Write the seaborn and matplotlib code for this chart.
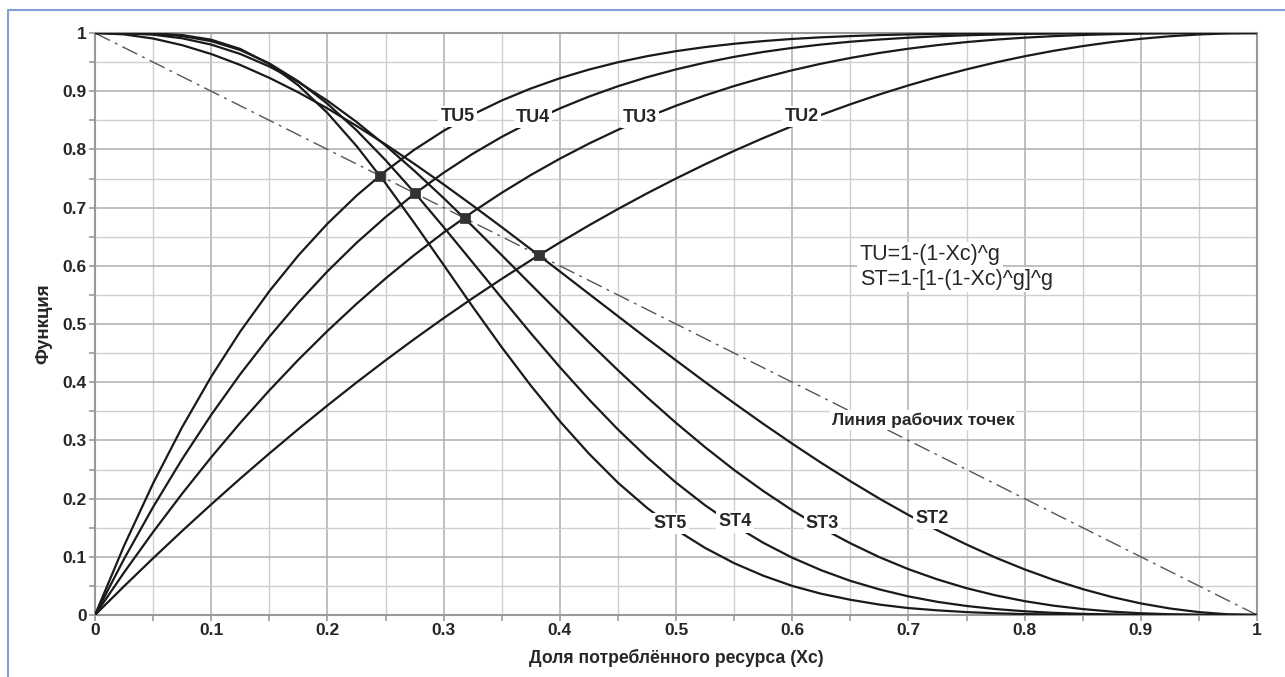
import pandas as pd
import numpy as np
import matplotlib
matplotlib.use("Agg")
import matplotlib.pyplot as plt
from matplotlib.lines import Line2D
from matplotlib.ticker import MultipleLocator
import seaborn as sns

# === данные (шаг 0.025) ===
xc = [0.000, 0.025, 0.050, 0.075, 0.100, 0.125, 0.150, 0.175, 0.200, 0.225,
      0.250, 0.275, 0.300, 0.325, 0.350, 0.375, 0.400, 0.425, 0.450, 0.475,
      0.500, 0.525, 0.550, 0.575, 0.600, 0.625, 0.650, 0.675, 0.700, 0.725,
      0.750, 0.775, 0.800, 0.825, 0.850, 0.875, 0.900, 0.925, 0.950, 0.975, 1.000]

tu2 = [0, .0494, .0975, .1444, .19, .2344, .2775, .3194, .36, .3994,
       .4375, .4744, .51, .5444, .5775, .6094, .64, .6694, .6975, .7244,
       .75, .7744, .7975, .8194, .84, .8594, .8775, .8944, .91, .9244,
       .9375, .9494, .96, .9694, .9775, .9844, .99, .9944, .9975, .9994, 1]
tu3 = [0, .0731, .1426, .2085, .271, .3301, .3859, .4385, .488, .5345,
       .5781, .6189, .657, .6925, .7254, .7559, .784, .8099, .8336, .8553,
       .875, .8928, .9089, .9232, .936, .9473, .9571, .9657, .973, .9792,
       .9844, .9886, .992, .9946, .9966, .998, .999, .9996, .9999, 1, 1]
tu4 = [0, .0963, .1855, .2679, .3439, .4138, .478, .5368, .5904, .6393,
       .6836, .7237, .7599, .7924, .8215, .8474, .8704, .8907, .9085, .924,
       .9375, .9491, .959, .9674, .9744, .9802, .985, .9888, .9919, .9943,
       .9961, .9974, .9984, .9991, .9995, .9998, .9999, 1, 1, 1, 1]
tu5 = [0, .1189, .2262, .3228, .4095, .4871, .5563, .6178, .6723, .7204,
       .7627, .7997, .8319, .8599, .884, .9046, .9222, .9371, .9497, .9601,
       .9688, .9758, .9815, .9861, .9898, .9926, .9947, .9964, .9976, .9984,
       .999, .9994, .9997, .9998, .9999, 1, 1, 1, 1, 1, 1]

st2 = [1, .9976, .9905, .9791, .9639, .9451, .923, .898, .8704, .8405,
       .8086, .7749, .7399, .7036, .6665, .6286, .5904, .5519, .5135, .4752,
       .4375, .4003, .364, .3286, .2944, .2614, .23, .2, .1719, .1455,
       .1211, .0986, .0784, .0603, .0445, .031, .0199, .0112, .005, .0012, 0]
st3 = [1, .9996, .9971, .9909, .9801, .964, .9425, .9157, .8838, .8473,
       .8068, .7629, .7164, .6679, .6183, .5681, .5181, .4688, .4207, .3743,
       .3301, .2884, .2492, .2132, .18, .1499, .1233, .0994, .0788, .0611,
       .0461, .0338, .0238, .016, .0102, .0058, .003, .0013, .0004, 0, 0]
st4 = [1, .9999, .9988, .9948, .986, .9707, .9478, .917, .8785, .833,
       .7816, .7257, .6666, .6057, .5446, .4843, .426, .3706, .3188, .2711,
       .2275, .1886, .1542, .1242, .0985, .0769, .0587, .044, .032, .0226,
       .0155, .0102, .0064, .0037, .002, .001, .0004, .0001, 0, 0, 0]
st5 = [1, 1, .9994, .9965, .9885, .9726, .9467, .91, .8627, .806,
       .7419, .6729, .6016, .5298, .4602, .3943, .333, .2774, .2274, .1842,
       .1466, .1153, .0891, .0676, .05, .0365, .0262, .0179, .0119, .008,
       .005, .003, .0015, .001, .0005, .0002, 0, 0, 0, 0, 0]

# линия рабочих точек
work_x = [0, 1]
work_y = [1, 0]

# рабочие точки (пересечения TU и ST)
point_x = [0.245, 0.2755, 0.318, 0.382]
point_y = [0.755, 0.7245, 0.682, 0.618]

curves = {"TU2": tu2, "TU3": tu3, "TU4": tu4, "TU5": tu5,
          "ST2": st2, "ST3": st3, "ST4": st4, "ST5": st5}

df = pd.concat([pd.DataFrame({"Xc": xc, "F": v, "curve": k}) for k, v in curves.items()],
               ignore_index=True)

# === оформление ===
sns.set_style("white")
plt.rcParams['font.family'] = ['Liberation Sans', 'DejaVu Sans']

fig = plt.figure(figsize=(12.85, 6.77), dpi=100)
ax = fig.add_axes([95 / 1285, 62 / 677, 1162 / 1285, 582 / 677])

# голубая рамка вокруг рисунка
fig.add_artist(Line2D([8 / 1285, 8 / 1285], [0, 1 - 10 / 677], color="#7f9fd5", lw=1.5))
fig.add_artist(Line2D([8 / 1285, 1], [1 - 10 / 677, 1 - 10 / 677], color="#7f9fd5", lw=1.5))

sns.lineplot(data=df, x="Xc", y="F", hue="curve", palette={k: "#1a1a1a" for k in curves},
             sort=False, estimator=None, legend=False, lw=1.6, ax=ax, zorder=3)
sns.lineplot(x=work_x, y=work_y, color="#555555", lw=1.0, ax=ax, zorder=2,
             linestyle=(0, (12, 4, 2, 4)))
sns.scatterplot(x=point_x, y=point_y, marker="s", s=45, color="#333333",
                edgecolor="#333333", ax=ax, zorder=5)

ax.set_xlim(0, 1)
ax.set_ylim(0, 1)
ax.xaxis.set_major_locator(MultipleLocator(0.1))
ax.yaxis.set_major_locator(MultipleLocator(0.1))
ax.xaxis.set_minor_locator(MultipleLocator(0.05))
ax.yaxis.set_minor_locator(MultipleLocator(0.05))
ax.grid(which="major", color="#b4b4b4", lw=1.2, zorder=0)
ax.grid(which="minor", color="#cfcfcf", lw=1.0, zorder=0)
ax.tick_params(which="both", direction="out", length=4, color="#999999", width=1.2,
               bottom=True, left=True, pad=2)
ax.tick_params(labelsize=12.5)
for lab in ax.get_xticklabels() + ax.get_yticklabels():
    lab.set_fontweight("bold")
ax.xaxis.set_major_formatter(plt.FuncFormatter(lambda v, p: f"{v:g}"))
ax.yaxis.set_major_formatter(plt.FuncFormatter(lambda v, p: f"{v:g}"))
for s in ax.spines.values():
    s.set_color("#999999")
    s.set_linewidth(1.5)

ax.set_xlabel("Доля потреблённого ресурса (Xc)", fontsize=12.7, fontweight="bold", labelpad=8)
ax.set_ylabel("Функция", fontsize=13.5, fontweight="bold", labelpad=7)

box = dict(facecolor="white", edgecolor="none", pad=1.5)
labels = [("TU5", 0.312, 0.857), ("TU4", 0.377, 0.855), ("TU3", 0.469, 0.855), ("TU2", 0.608, 0.857),
          ("ST5", 0.495, 0.157), ("ST4", 0.551, 0.16), ("ST3", 0.626, 0.158), ("ST2", 0.72, 0.166)]
for t, x, y in labels:
    ax.text(x, y, t, fontsize=13, fontweight="bold", ha="center", va="center", bbox=box, zorder=6)

ax.text(0.658, 0.619, "TU=1-(1-Xc)^g", fontsize=15.5, ha="left", va="center", bbox=box, zorder=6)
ax.text(0.658, 0.576, "ST=1-[1-(1-Xc)^g]^g", fontsize=15.5, ha="left", va="center", bbox=box, zorder=6)
ax.text(0.634, 0.335, "Линия рабочих точек", fontsize=12.5, fontweight="bold",
        ha="left", va="center", bbox=box, zorder=6)

fig.savefig("out.png", dpi=100)
